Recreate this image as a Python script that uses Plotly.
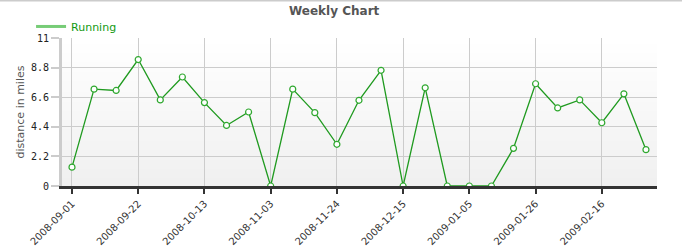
import base64, struct, zlib
import pandas as pd
import plotly.graph_objects as go

# ---- data ----
start_date = "2008-09-01"
n_weeks = 27
dates = pd.date_range(start_date, periods=n_weeks, freq="7D")
distance = [1.4, 7.2, 7.1, 9.4, 6.4, 8.1, 6.2, 4.5, 5.5, 0.0,
            7.2, 5.45, 3.1, 6.37, 8.6, 0.0, 7.3, 0.0, 0.0, 0.0,
            2.8, 7.6, 5.8, 6.4, 4.7, 6.85, 2.7]
series_name = "Running"
y_ticks = [0, 2.2, 4.4, 6.6, 8.8, 11]
y_tick_text = ["0", "2.2", "4.4", "6.6", "8.8", "11"]

# ---- gradient background image (white -> light gray) ----
def gradient_png(h=64, top=(255, 255, 255), bot=(240, 240, 240)):
    rows = b""
    for i in range(h):
        t = i / (h - 1)
        c = bytes(int(round(top[k] + (bot[k] - top[k]) * t)) for k in range(3))
        rows += b"\x00" + c
    def chunk(tag, data):
        return struct.pack(">I", len(data)) + tag + data + struct.pack(">I", zlib.crc32(tag + data) & 0xffffffff)
    png = b"\x89PNG\r\n\x1a\n"
    png += chunk(b"IHDR", struct.pack(">IIBBBBB", 1, h, 8, 2, 0, 0, 0))
    png += chunk(b"IDAT", zlib.compress(rows))
    png += chunk(b"IEND", b"")
    return "data:image/png;base64," + base64.b64encode(png).decode()

fig = go.Figure()
fig.add_trace(go.Scatter(
    x=dates, y=distance, name=series_name, mode="lines+markers",
    line=dict(color="#1f9a1f", width=1.3),
    marker=dict(symbol="circle", size=6, color="white",
                line=dict(color="#2fa82f", width=1.2)),
    showlegend=False,
))
# legend entry drawn as a plain line, as in the reference
fig.add_trace(go.Scatter(
    x=[None], y=[None], name=series_name, mode="lines",
    line=dict(color="#77cc77", width=3), showlegend=True,
))

fig.update_layout(
    width=682, height=250,
    margin=dict(l=62, r=25, t=38, b=64),
    paper_bgcolor="white", plot_bgcolor="white",
    images=[dict(source=gradient_png(), xref="paper", yref="paper",
                 x=0, y=1, sizex=1, sizey=1, sizing="stretch",
                 xanchor="left", yanchor="top", layer="below")],
    title=dict(text="<b>Weekly Chart</b>", x=0.49, xanchor="center",
               y=0.955, yanchor="middle",
               font=dict(family="DejaVu Sans", size=12, color="#555555")),
    showlegend=True,
    legend=dict(orientation="h", x=-0.052, xanchor="left", y=0.98, yanchor="bottom",
                font=dict(family="DejaVu Sans", size=11, color="#119911"),
                itemwidth=30, bgcolor="rgba(0,0,0,0)",
                tracegroupgap=0),
    xaxis=dict(
        type="date", automargin=False,
        range=["2008-08-28 20:00", "2009-03-05 12:00"],
        tick0=start_date, dtick=21 * 24 * 3600 * 1000,
        tickformat="%Y-%m-%d", tickangle=-45,
        tickfont=dict(family="DejaVu Sans", size=10, color="#333333"),
        showgrid=True, gridcolor="#cccccc", gridwidth=1,
        showline=True, linecolor="#333333", linewidth=3,
        ticks="outside", ticklen=5, tickwidth=2, tickcolor="#333333",
        zeroline=False,
    ),
    yaxis=dict(
        range=[0, 11], automargin=False,
        tickvals=y_ticks, ticktext=y_tick_text,
        tickfont=dict(family="DejaVu Sans Mono", size=10, color="#222222"),
        title=dict(text="distance in miles", standoff=5,
                   font=dict(family="DejaVu Sans", size=11, color="#555555")),
        showgrid=True, gridcolor="#cccccc", gridwidth=1,
        showline=True, linecolor="#cccccc", linewidth=3,
        ticks="outside", ticklen=8, tickwidth=2, tickcolor="#cccccc",
        zeroline=False,
    ),
)
fig.add_shape(type="line", xref="paper", yref="paper", x0=-1, x1=2, y0=1.254, y1=1.254,
              line=dict(color="#cccccc", width=2))

fig.write_html("out.html")
